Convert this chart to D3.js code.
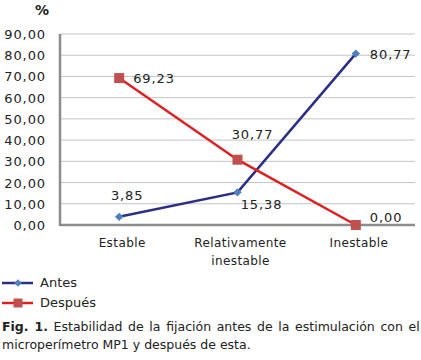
<!DOCTYPE html>
<html>
<head>
<meta charset="utf-8">
<script src="https://d3js.org/d3.v7.min.js"></script>
<style>
    body { margin: 0; background: #fff; }
    svg text { font-family: 'DejaVu Sans', Verdana, sans-serif; fill: #222; }
    .grid line { stroke: #c4c4c4; stroke-width: 1; }
    .axis-line { stroke: #8c8c8c; stroke-width: 2.5; }
</style>
</head>
<body>
<svg id="chart" width="421" height="360"></svg>
<script>
    const categories = ["Estable", "Relativamente\ninestable", "Inestable"];
    const antes = [3.85, 15.38, 80.77];
    const despues = [69.23, 30.77, 0.00];
    const yTicks = [0, 10, 20, 30, 40, 50, 60, 70, 80, 90];
    const seriesNames = ["Antes", "Después"];
    // where each value label sits relative to its point
    const antesLabelPos = ["above", "belowRight", "right"];
    const despuesLabelPos = ["right", "aboveRight", "upRight"];

    const plot = { left: 60, right: 415, top: 34, bottom: 225 };
    const fmt = v => v.toFixed(2).replace(".", ",");

    const svg = d3.select("#chart");

    const x = d3.scaleBand()
        .domain(categories)
        .range([plot.left, plot.right]);
    const y = d3.scaleLinear()
        .domain([0, 90])
        .range([plot.bottom, plot.top]);

    // gridlines
    svg.append("g").attr("class", "grid")
        .selectAll("line")
        .data(yTicks.filter(d => d > 0))
        .enter().append("line")
        .attr("x1", plot.left).attr("x2", plot.right)
        .attr("y1", d => y(d)).attr("y2", d => y(d));

    // y axis labels
    svg.append("g")
        .selectAll("text")
        .data(yTicks)
        .enter().append("text")
        .attr("x", 46)
        .attr("y", d => y(d) + 5)
        .attr("text-anchor", "end")
        .style("font-size", "13px")
        .style("letter-spacing", "0.9px")
        .text(d => fmt(d));

    svg.append("text")
        .attr("x", 42).attr("y", 15)
        .attr("text-anchor", "middle")
        .style("font-size", "14px")
        .style("font-weight", "bold")
        .text("%");

    // axis lines
    svg.append("line").attr("class", "axis-line")
        .attr("x1", plot.left).attr("x2", plot.left)
        .attr("y1", plot.top).attr("y2", plot.bottom + 1);
    svg.append("line").attr("class", "axis-line")
        .attr("x1", plot.left).attr("x2", plot.right)
        .attr("y1", plot.bottom).attr("y2", plot.bottom);

    // category labels
    const cat = svg.append("g")
        .selectAll("text")
        .data(categories)
        .enter().append("text")
        .attr("x", d => x(d) + x.bandwidth() / 2 + 3)
        .attr("y", 247)
        .attr("text-anchor", "middle")
        .style("font-size", "12px")
        .style("letter-spacing", "0.4px");
    cat.selectAll("tspan")
        .data(d => d.split("\n"))
        .enter().append("tspan")
        .attr("x", function () { return d3.select(this.parentNode).attr("x"); })
        .attr("dy", (d, i) => i ? 18 : 0)
        .text(d => d);

    const cx = i => x(categories[i]) + x.bandwidth() / 2;
    const line = d3.line().x((d, i) => cx(i)).y(d => y(d));

    const series = [
        { name: seriesNames[0], values: antes, line: "#2b2e87", marker: "#4f81bd", shape: d3.symbolDiamond2, size: 45, pos: antesLabelPos },
        { name: seriesNames[1], values: despues, line: "#e02020", marker: "#c0504d", shape: d3.symbolSquare, size: 100, pos: despuesLabelPos }
    ];

    const offsets = {
        above: { dx: 8, dy: -17, anchor: "middle" },
        aboveRight: { dx: 15, dy: -21, anchor: "middle" },
        belowRight: { dx: 24, dy: 17, anchor: "middle" },
        right: { dx: 14, dy: 5, anchor: "start" },
        upRight: { dx: 14, dy: -3, anchor: "start" }
    };

    series.forEach(s => {
        svg.append("path")
            .datum(s.values)
            .attr("fill", "none")
            .attr("stroke", s.line)
            .attr("stroke-width", 2.5)
            .attr("d", line);
        svg.append("g")
            .selectAll("path")
            .data(s.values)
            .enter().append("path")
            .attr("transform", (d, i) => `translate(${cx(i)},${y(d)})`)
            .attr("d", d3.symbol().type(s.shape).size(s.size))
            .attr("fill", s.marker);
        svg.append("g")
            .selectAll("text")
            .data(s.values)
            .enter().append("text")
            .attr("x", (d, i) => cx(i) + offsets[s.pos[i]].dx)
            .attr("y", (d, i) => y(d) + offsets[s.pos[i]].dy)
            .attr("text-anchor", (d, i) => offsets[s.pos[i]].anchor)
            .style("font-size", "13px")
            .style("letter-spacing", "0.9px")
            .text(d => fmt(d));
    });

    // legend
    const legend = svg.append("g")
        .selectAll("g")
        .data(series)
        .enter().append("g")
        .attr("transform", (d, i) => `translate(2,${283 + i * 20})`);
    legend.append("line")
        .attr("x1", 0).attr("x2", 31)
        .attr("stroke", d => d.line)
        .attr("stroke-width", 2.5);
    legend.append("path")
        .attr("transform", "translate(16,0)")
        .attr("d", d => d3.symbol().type(d.shape).size(d.size * 0.8)())
        .attr("fill", d => d.marker);
    legend.append("text")
        .attr("x", 38).attr("y", 4)
        .style("font-size", "13px")
        .text(d => d.name);

    // caption (first line justified to the full width)
    const cap = svg.append("text")
        .attr("x", 2).attr("y", 331)
        .style("font-size", "12.5px");
    cap.append("tspan").style("font-weight", "bold").text("Fig. 1.");
    cap.append("tspan").text(" Estabilidad de la fijación antes de la estimulación con el");
    const capLen = cap.node().getComputedTextLength();
    const gaps = 10;
    cap.style("word-spacing", Math.max(0, (416 - capLen) / gaps) + "px");
    svg.append("text")
        .attr("x", 2).attr("y", 349)
        .style("font-size", "12.5px")
        .text("microperímetro MP1 y después de esta.");
</script>
</body>
</html>
